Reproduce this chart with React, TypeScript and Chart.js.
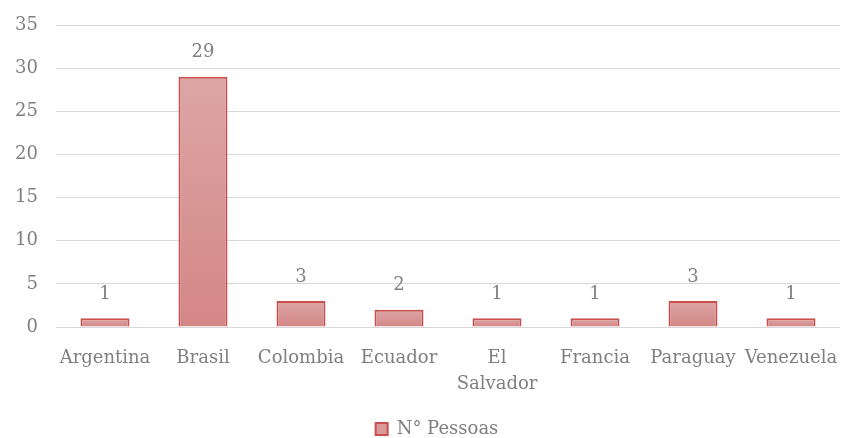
import React, { useEffect, useRef } from "react";
import { Chart, registerables } from "chart.js";

Chart.register(...registerables);

const categories: (string | string[])[] = [
  "Argentina",
  "Brasil",
  "Colombia",
  "Ecuador",
  ["El", "Salvador"],
  "Francia",
  "Paraguay",
  "Venezuela",
];
const pessoas: number[] = [1, 29, 3, 2, 1, 1, 3, 1];
const seriesLabel = "N° Pessoas";
const yTicks: number[] = [0, 5, 10, 15, 20, 25, 30, 35];

const FONT = "'DejaVu Serif', 'Liberation Serif', serif";
const TEXT = "#7f7f7f";
const FSIZE = 18;

const dataLabels = {
  id: "dataLabels",
  afterLayout(chart: any) {
    const l = chart.legend;
    if (l) {
      l.left -= 11;
      l.right -= 11;
    }
  },
  afterDatasetsDraw(chart: any) {
    const ctx = chart.ctx;
    const meta = chart.getDatasetMeta(0);
    ctx.save();
    ctx.fillStyle = TEXT;
    ctx.font = `${FSIZE}px ${FONT}`;
    ctx.textAlign = "center";
    ctx.textBaseline = "middle";
    meta.data.forEach((bar: any, i: number) => {
      ctx.fillText(String(pessoas[i]), bar.x, bar.y - 24);
    });
    ctx.restore();
  },
};

export default function App() {
  const ref = useRef<HTMLCanvasElement>(null);
  useEffect(() => {
    if (!ref.current) return;
    const chart = new Chart(ref.current, {
      type: "bar",
      data: {
        labels: categories,
        datasets: [
          {
            label: seriesLabel,
            data: pessoas,
            backgroundColor: (c: any) => {
              const area = c.chart.chartArea;
              if (!area || c.type !== "data") return "#d99594";
              const ys = c.chart.scales.y;
              const top = ys.getPixelForValue(c.raw);
              const bottom = ys.getPixelForValue(0);
              const g = c.chart.ctx.createLinearGradient(0, top, 0, bottom + 0.01);
              g.addColorStop(0, "#dca6a5");
              g.addColorStop(1, "#d48686");
              return g;
            },
            borderColor: "#c9504e",
            borderWidth: 2,
            categoryPercentage: 1,
            barPercentage: 0.5,
          },
        ],
      },
      options: {
        animation: false,
        responsive: true,
        maintainAspectRatio: false,
        layout: { padding: { top: 25, right: 2, left: 0, bottom: -10 } },
        plugins: {
          tooltip: { enabled: false },
          legend: {
            position: "bottom",
            fullSize: false,
            labels: {
              color: TEXT,
              font: { family: FONT, size: FSIZE },
              boxWidth: 12,
              boxHeight: 12,
              padding: 2,
              generateLabels: () => [
                {
                  text: seriesLabel,
                  fillStyle: "#d99a99",
                  strokeStyle: "#c9504e",
                  lineWidth: 2,
                  fontColor: TEXT,
                  datasetIndex: 0,
                } as any,
              ],
            },
          },
        },
        scales: {
          x: {
            grid: { display: false },
            border: { display: false },
            afterFit: (s: any) => {
              s.height = 91;
              s.paddingRight = 0;
              s.paddingLeft = 0;
            },
            ticks: {
              color: TEXT,
              font: { family: FONT, size: FSIZE, lineHeight: 1.45 },
              padding: 10,
              maxRotation: 0,
              autoSkip: false,
            },
          },
          y: {
            min: 0,
            max: 35,
            afterFit: (s: any) => {
              s.width = 56;
              s.paddingTop = 0;
              s.paddingBottom = 0;
            },
            afterBuildTicks: (s: any) => {
              s.ticks = yTicks.map((v) => ({ value: v }));
            },
            grid: { color: "#d9d9d9", lineWidth: 1, drawTicks: false },
            border: { display: false },
            ticks: {
              color: TEXT,
              font: { family: FONT, size: FSIZE },
              padding: 18,
            },
          },
        },
      },
      plugins: [dataLabels],
    });
    return () => chart.destroy();
  }, []);
  return (
    <div style={{ position: "absolute", left: 0, top: 0, width: 842, height: 438 }}>
      <canvas ref={ref} />
    </div>
  );
}
